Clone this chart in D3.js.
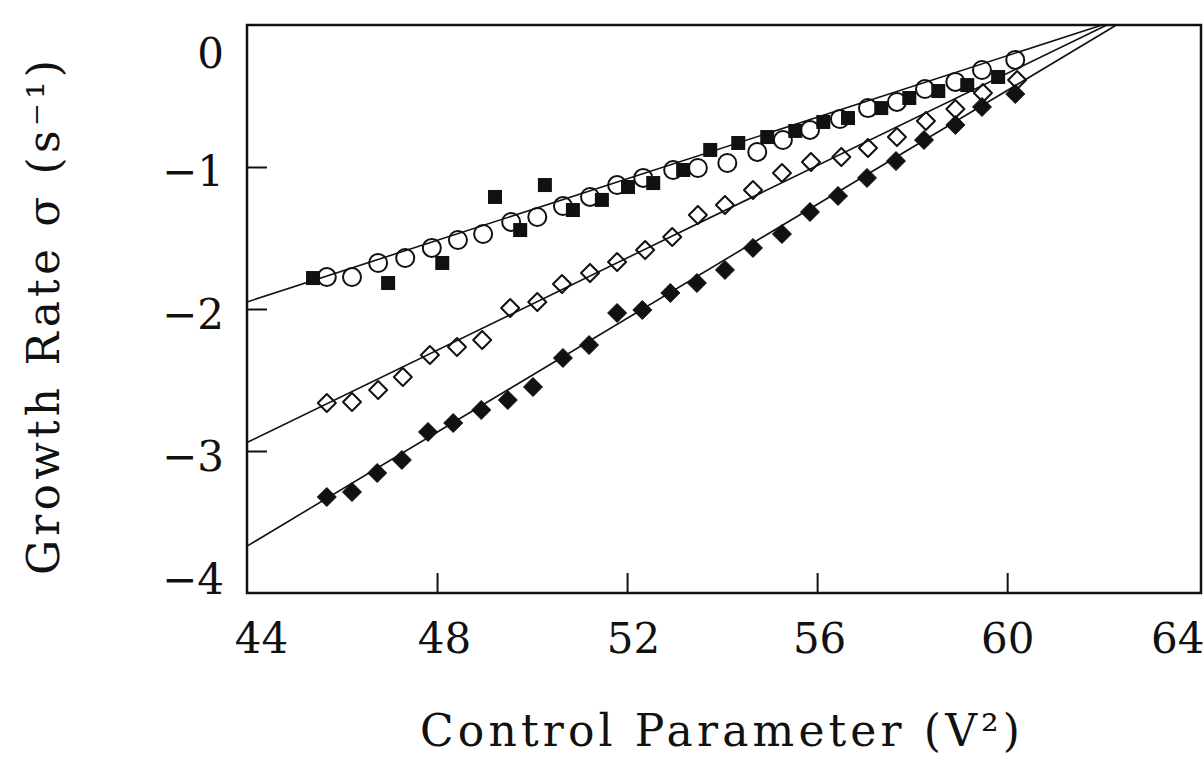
<!DOCTYPE html>
<html><head><meta charset="utf-8">
<script src="https://cdn.jsdelivr.net/npm/d3@7"></script>
<style>body{margin:0;background:#fff}svg{display:block}</style>
</head><body>
<svg id="c" width="1203" height="757"></svg>
<script>
// ---- data ----
const xTicks = [44, 48, 52, 56, 60, 64];
const yTicks = [0, -1, -2, -3, -4];

const circleX = [45.68,46.21,46.76,47.33,47.89,48.44,48.97,49.56,50.11,50.65,51.22,51.79,52.34,52.97,53.49,54.11,54.74,55.28,55.85,56.48,57.07,57.68,58.27,58.91,59.47,60.17];
const circleY = [-1.775,-1.775,-1.676,-1.641,-1.570,-1.514,-1.472,-1.387,-1.352,-1.275,-1.211,-1.127,-1.077,-1.021,-1.007,-0.972,-0.894,-0.810,-0.739,-0.662,-0.585,-0.542,-0.451,-0.401,-0.317,-0.246];

const squareX = [45.39,46.97,48.11,49.22,49.75,50.27,50.86,51.47,52.02,52.55,53.18,53.75,54.34,54.95,55.54,56.13,56.65,57.35,57.94,58.55,59.16,59.81];
const squareY = [-1.782,-1.817,-1.676,-1.211,-1.444,-1.127,-1.303,-1.232,-1.141,-1.113,-1.021,-0.880,-0.831,-0.789,-0.746,-0.683,-0.655,-0.585,-0.514,-0.465,-0.423,-0.366];

const openDiamondX = [45.68,46.21,46.76,47.28,47.85,48.42,48.95,49.54,50.11,50.63,51.22,51.79,52.38,52.95,53.49,54.06,54.65,55.26,55.87,56.51,57.07,57.68,58.29,58.91,59.49,60.21];
const openDiamondY = [-2.662,-2.655,-2.570,-2.479,-2.324,-2.268,-2.218,-1.993,-1.951,-1.824,-1.746,-1.669,-1.585,-1.493,-1.338,-1.268,-1.162,-1.042,-0.965,-0.930,-0.866,-0.789,-0.676,-0.592,-0.479,-0.387];

const filledDiamondX = [45.68,46.21,46.74,47.26,47.81,48.34,48.93,49.49,50.02,50.65,51.20,51.79,52.32,52.91,53.47,54.06,54.65,55.26,55.85,56.44,57.05,57.66,58.25,58.91,59.47,60.17];
const filledDiamondY = [-3.324,-3.289,-3.155,-3.063,-2.866,-2.803,-2.711,-2.641,-2.549,-2.345,-2.254,-2.028,-2.007,-1.887,-1.817,-1.725,-1.570,-1.472,-1.317,-1.204,-1.077,-0.958,-0.810,-0.704,-0.577,-0.486];

// fitted lines: [x, y] endpoints
const fitUpper  = [[44, -1.95], [62.0, 0]];
const fitMiddle = [[44, -2.94], [62.1, 0]];
const fitLower  = [[44, -3.67], [62.3, 0]];

const xTitle = "Control Parameter (V\u00B2)";
const yTitle = "Growth Rate \u03C3 (s\u207B\u00B9)";

// ---- drawing ----
const svg = d3.select("#c");
const x = d3.scaleLinear().domain([44, 64.08]).range([247, 1201]);
const y = d3.scaleLinear().domain([-4, 0]).range([593, 25]);
const ink = "#111";
const serif = "'DejaVu Serif', serif";

// frame
svg.append("rect")
  .attr("x", x(44)).attr("y", y(0))
  .attr("width", x(64.08) - x(44)).attr("height", y(-4) - y(0))
  .attr("fill", "none").attr("stroke", ink).attr("stroke-width", 2.5);

// x axis (ticks inward)
const xLabelShift = {"44": 14, "48": 7, "52": 6, "56": 2, "60": 0, "64": -20};
const xAxis = d3.axisBottom(x).tickValues(xTicks).tickSize(-20).tickPadding(0).tickFormat(d3.format("d"));
const gx = svg.append("g").attr("transform", `translate(0,${y(-4)})`).call(xAxis);
gx.select(".domain").remove();
gx.selectAll(".tick line").attr("stroke", ink).attr("stroke-width", 2);
gx.selectAll(".tick text")
  .attr("font-family", serif).attr("font-size", 42).attr("fill", ink)
  .attr("dy", null).attr("y", 60).attr("x", d => xLabelShift[String(d)]);
gx.selectAll(".tick").filter(d => d === 44 || d === 64).select("line").remove();

// y axis (ticks inward)
const yLabelShift = {"0": 42, "-1": 18, "-2": 19, "-3": 19, "-4": 0};
const yAxis = d3.axisLeft(y).tickValues(yTicks).tickSize(-20).tickPadding(0)
  .tickFormat(d => d === 0 ? "0" : "\u2212" + Math.abs(d));
const gy = svg.append("g").attr("transform", `translate(${x(44)},0)`).call(yAxis);
gy.select(".domain").remove();
gy.selectAll(".tick line").attr("stroke", ink).attr("stroke-width", 2);
gy.selectAll(".tick").filter(d => d === 0 || d === -4).select("line").remove();
gy.selectAll(".tick text")
  .attr("font-family", serif).attr("font-size", 42).attr("fill", ink)
  .attr("dy", null).attr("x", -23)
  .attr("y", d => yLabelShift[String(d)]);

// fitted lines
const line = d3.line().x(d => x(d[0])).y(d => y(d[1]));
[fitUpper, fitMiddle, fitLower].forEach(f => {
  svg.append("path").attr("d", line(f)).attr("fill", "none")
    .attr("stroke", ink).attr("stroke-width", 1.6);
});

const zip = (xs, ys) => xs.map((v, i) => [v, ys[i]]);

// filled squares
svg.append("g").selectAll("rect").data(zip(squareX, squareY)).join("rect")
  .attr("x", d => x(d[0]) - 7).attr("y", d => y(d[1]) - 7)
  .attr("width", 14).attr("height", 14).attr("fill", ink);

// open circles
svg.append("g").selectAll("circle").data(zip(circleX, circleY)).join("circle")
  .attr("cx", d => x(d[0])).attr("cy", d => y(d[1])).attr("r", 9)
  .attr("fill", "none").attr("stroke", ink).attr("stroke-width", 2);

// diamonds
const diamond = r => `M0,${-r}L${r},0L0,${r}L${-r},0Z`;
svg.append("g").selectAll("path").data(zip(openDiamondX, openDiamondY)).join("path")
  .attr("transform", d => `translate(${x(d[0])},${y(d[1])})`)
  .attr("d", diamond(9)).attr("fill", "none").attr("stroke", ink)
  .attr("stroke-width", 2).attr("stroke-linejoin", "round");
svg.append("g").selectAll("path").data(zip(filledDiamondX, filledDiamondY)).join("path")
  .attr("transform", d => `translate(${x(d[0])},${y(d[1])})`)
  .attr("d", diamond(9.5)).attr("fill", ink).attr("stroke", ink)
  .attr("stroke-width", 1).attr("stroke-linejoin", "round");

// axis titles
svg.append("text").text(xTitle)
  .attr("x", 420).attr("y", 746)
  .attr("font-family", serif).attr("font-size", 44).attr("fill", ink)
  .attr("textLength", 600).attr("lengthAdjust", "spacing");
svg.append("text").text(yTitle)
  .attr("transform", "translate(59,575) rotate(-90)")
  .attr("font-family", serif).attr("font-size", 44).attr("fill", ink)
  .attr("textLength", 515).attr("lengthAdjust", "spacing");
</script>
</body></html>
